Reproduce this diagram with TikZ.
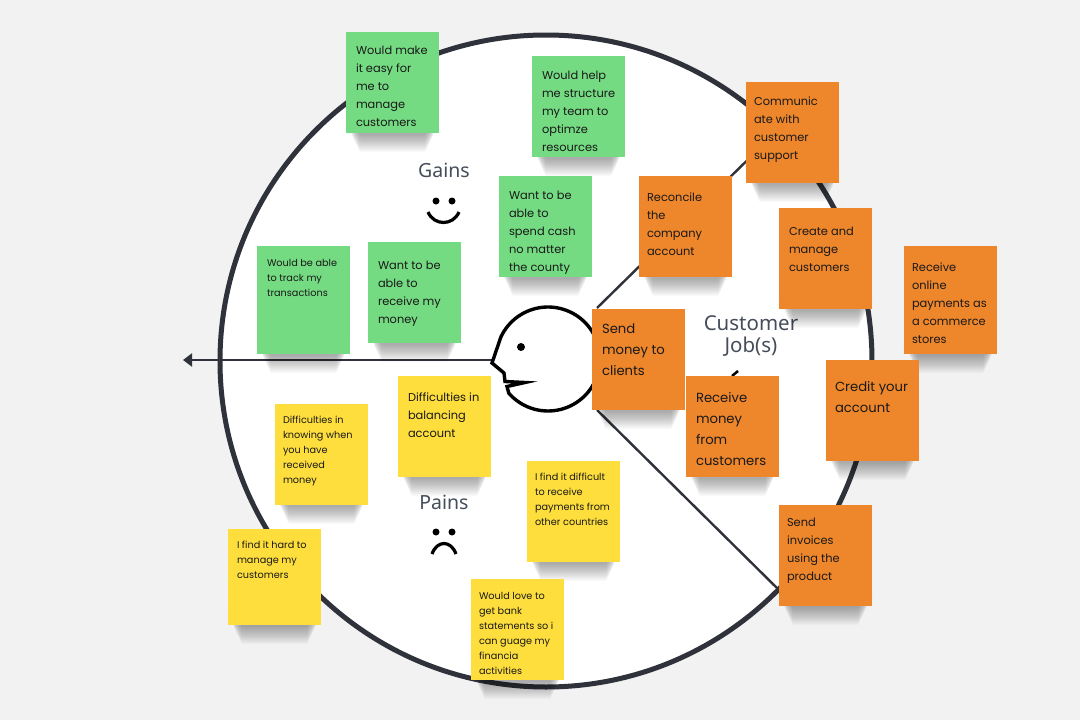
\documentclass[tikz,border=0pt]{standalone}
\usepackage{fontspec}
\setmainfont{Poppins}
\newfontfamily\labelfont{Noto Sans}
\usetikzlibrary{arrows.meta}
\definecolor{bgc}{HTML}{F2F2F2}
\definecolor{ink}{HTML}{2F323A}
\definecolor{gn}{HTML}{75DB82}
\definecolor{yl}{HTML}{FEDE3C}
\definecolor{og}{HTML}{EE862B}
\definecolor{lab}{HTML}{454D5A}
\tikzset{
  sticky/.style={inner sep=0pt,outer sep=0pt,anchor=north west,text=black!90},
  smalltxt/.style={font=\fontsize{9.7}{15}\selectfont},
  midtxt/.style={font=\fontsize{11.4}{18}\selectfont},
  bigtxt/.style={font=\fontsize{13.2}{21}\selectfont},
  lbl/.style={text=lab,font=\labelfont\fontsize{19.5}{22}\selectfont,align=center},
  conn/.style={draw=ink,line width=2.4pt},
  face/.style={draw=black,line width=3.4pt,line cap=round,line join=miter}
}
% #1 name #2 x #3 y #4 height #5 colour #6 text style #7 left inset #8 top inset #9 text
\newcommand\stickynote[9]{%
  \foreach \i in {1,...,18}{
    \fill[black,opacity=.02,rounded corners=\i pt]
      ({#2+14-0.8*\i},{#3+#4-20}) rectangle ({#2+93-14+0.8*\i},{#3+#4+20-\i});
  }
  \node[sticky,fill=#5,#6] (#1) at (#2,#3) {\parbox[c][#4pt][t]{93pt}{\leftskip=#7pt\relax\raggedright\leftskip=#7pt\relax\vspace*{#8pt}\strut #9}};
}
\begin{document}
\begin{tikzpicture}[x=1pt,y=-1pt]
\useasboundingbox (0,0) rectangle (1080,720);
\fill[bgc] (0,0) rectangle (1080,720);
% canvas circle
\node[circle,draw=ink,fill=white,line width=5pt,minimum size=652pt,inner sep=0pt] (canvas) at (546,361) {};
\coordinate (headC) at (548,359);
\coordinate (nose) at (493,360);
\coordinate (arrowEnd) at (183,360);
\coordinate (upA) at (597,308);
\coordinate (upB) at (777,131);
\coordinate (lowA) at (597,410);
\coordinate (lowB) at (779,590);
\draw[conn,-{Triangle[length=9pt,width=13pt]}] (nose) -- (arrowEnd);
\draw[conn] (upA) -- (upB);
\draw[conn] (lowA) -- (lowB);
% head
\fill[white] (headC) circle (50pt);
\draw[face] plot[domain=139:-155,samples=80] ({548+52*cos(\x)},{359+52*sin(\x)})
  -- (492,363) -- (504,373) -- (505,381.5) -- (525,382.5) -- (507,386.5) -- cycle;
\fill[black] (521,347) circle (4pt);
% labels
\node[lbl] (gains) at (444,170) {Gains};
\node[lbl] (pains) at (444,502) {Pains};
\node[lbl,font=\labelfont\fontsize{20.5}{22}\selectfont] (jobs) at (751,336) {Customer\\Job(s)};
% faces
\fill (436,201) circle (3.5pt) (452,201) circle (3.5pt);
\draw[black,line width=3.2pt] (428,212) .. controls (434,226) and (453,226) .. (459,212);
\fill (436,532) circle (3.5pt) (452,532) circle (3.5pt);
\draw[black,line width=3.2pt] (432,554) .. controls (437,540) and (451,540) .. (456,554);
\draw[black,line width=2.5pt] (732,376) -- (738,371);
% green
\stickynote{ga}{346}{32}{101}{gn}{midtxt}{10}{10}{Would make\\it easy for\\me to\\manage\\customers}
\stickynote{gb}{532}{56}{101}{gn}{midtxt}{10}{11}{Would help\\me structure\\my team to\\optimze\\resources}
\stickynote{gc}{499}{176}{101}{gn}{midtxt}{10}{11}{Want to be\\able to\\spend cash\\no matter\\the county}
\stickynote{gd}{257}{246}{108}{gn}{smalltxt}{10}{9.5}{Would be able\\to track my\\transactions}
\stickynote{ge}{368}{242}{101}{gn}{midtxt}{10}{15}{Want to be\\able to\\receive my\\money}
% yellow
\stickynote{ya}{398}{376}{101}{yl}{midtxt}{10}{13}{Difficulties in\\balancing\\account}
\stickynote{yb}{275}{404}{101}{yl}{smalltxt}{8}{8.5}{Difficulties in\\knowing when\\you have\\received\\money}
\stickynote{yc}{527}{461}{101}{yl}{smalltxt}{8}{8.5}{I find it difficult\\to receive\\payments from\\other countries}
\stickynote{yd}{228}{529}{96}{yl}{smalltxt}{9}{8.5}{I find it hard to\\manage my\\customers}
\stickynote{ye}{471}{579}{101}{yl}{smalltxt}{8}{9.5}{Would love to\\get bank\\statements so i\\can guage my\\financia\\activities}
% orange
\stickynote{oa}{746}{82}{101}{og}{midtxt}{8}{11}{Communic\\ate with\\customer\\support}
\stickynote{ob}{639}{176}{101}{og}{midtxt}{8}{13}{Reconcile\\the\\company\\account}
\stickynote{oc}{779}{208}{101}{og}{midtxt}{10}{15}{Create and\\manage\\customers}
\stickynote{od}{904}{246}{108}{og}{midtxt}{8}{13}{Receive\\online\\payments as\\a commerce\\stores}
\stickynote{oe}{592}{309}{101}{og}{bigtxt}{10}{10}{Send\\money to\\clients}
\stickynote{of}{686}{376}{101}{og}{bigtxt}{10}{12}{Receive\\money\\from\\customers}
\stickynote{og}{826}{360}{101}{og}{bigtxt}{9}{17}{Credit your\\account}
\stickynote{oh}{779}{505}{101}{og}{midtxt}{8}{9}{Send\\invoices\\using the\\product}
\end{tikzpicture}
\end{document}
